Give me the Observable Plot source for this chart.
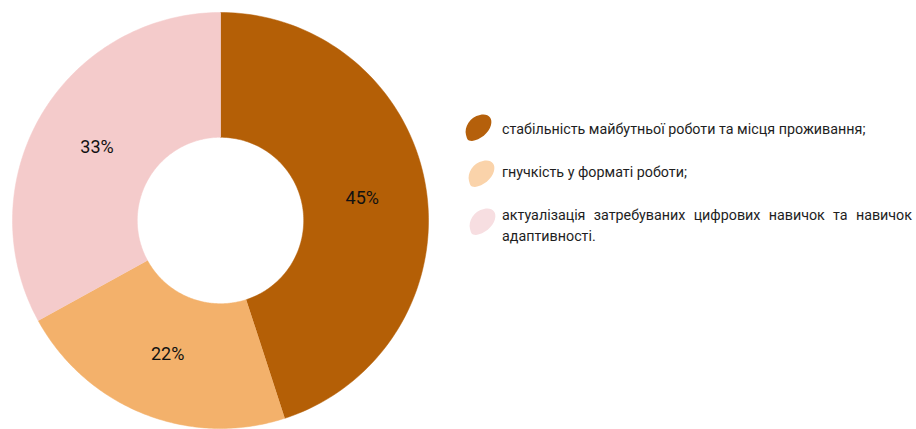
<!DOCTYPE html>
<html><head><meta charset="utf-8">
<script src="https://cdn.jsdelivr.net/npm/d3@7"></script>
<script src="https://cdn.jsdelivr.net/npm/@observablehq/plot@0.6"></script>
<style>
body{margin:0;background:#fff;}
#wrap{position:relative;width:916px;height:429px;overflow:hidden;}
#legend{position:absolute;left:0;top:0;width:916px;height:429px;pointer-events:none;font-family:Roboto,"Noto Sans",sans-serif;font-size:14.3px;color:#1e1e1e;}
.item{position:absolute;left:502px;width:410px;text-align:justify;line-height:21px;}
.blob{position:absolute;}
</style>
</head><body>
<div id="wrap"><div id="chart"></div><div id="legend"></div></div>
<script>
const categories = ["стабільність майбутньої роботи та місця проживання;", "гнучкість у форматі роботи;", "актуалізація затребуваних цифрових навичок та навичок адаптивності."];
const values = [45, 22, 33];
const labels = ["45%", "22%", "33%"];
const colors = ["#B45F06", "#F3B16B", "#F4CBCB"];
const legendColors = ["#B5600B", "#FAD3AA", "#F7DEE1"];

const inner = 0.4, outer = 1;
const pie = d3.pie().sort(null).value(d => d.v)(categories.map((c, i) => ({c, v: values[i], l: labels[i]})));
const poly = [];
pie.forEach(p => {
  const n = 120;
  for (let k = 0; k <= n; k++) {
    const a = p.startAngle + (p.endAngle - p.startAngle) * k / n;
    poly.push({cat: p.data.c, x: outer * Math.sin(a), y: outer * Math.cos(a)});
  }
  for (let k = n; k >= 0; k--) {
    const a = p.startAngle + (p.endAngle - p.startAngle) * k / n;
    poly.push({cat: p.data.c, x: inner * Math.sin(a), y: inner * Math.cos(a)});
  }
});
const labelData = pie.map(p => {
  const a = (p.startAngle + p.endAngle) / 2, r = 0.69;
  return {l: p.data.l, x: r * Math.sin(a), y: r * Math.cos(a)};
});

const chart = Plot.plot({
  width: 916, height: 429, margin: 0,
  x: {domain: [-1, 1], range: [12, 428], axis: null},
  y: {domain: [-1, 1], range: [428, 12], axis: null},
  color: {domain: categories, range: colors},
  style: {fontFamily: "Roboto, sans-serif", background: "#fff"},
  marks: [
    Plot.line(poly, {x: "x", y: "y", z: "cat", fill: "cat", stroke: "cat", strokeWidth: 0.5}),
    Plot.text(labelData, {x: "x", y: "y", text: "l", fontSize: 18, fill: "#111"})
  ]
});
document.getElementById("chart").append(chart);

const blobPath = "M4,22 C2,14 8,4 18,2 C26,0 31,5 29,12 C27,20 18,27 10,28 C5,28 5,25 4,22 Z";
const tops = [119, 162, 205];
const blobPos = [[462,113],[465,159],[466,207]];
const legend = document.getElementById("legend");
categories.forEach((c, i) => {
  const d = document.createElement("div");
  d.className = "item";
  d.style.top = tops[i] + "px";
  d.textContent = c;
  legend.append(d);
  const s = document.createElementNS("http://www.w3.org/2000/svg", "svg");
  s.setAttribute("width", 32); s.setAttribute("height", 30);
  s.setAttribute("class", "blob");
  s.style.left = blobPos[i][0] + "px"; s.style.top = blobPos[i][1] + "px";
  const p = document.createElementNS("http://www.w3.org/2000/svg", "path");
  p.setAttribute("d", blobPath); p.setAttribute("fill", legendColors[i]);
  s.append(p);
  legend.append(s);
});
</script>
</body></html>
